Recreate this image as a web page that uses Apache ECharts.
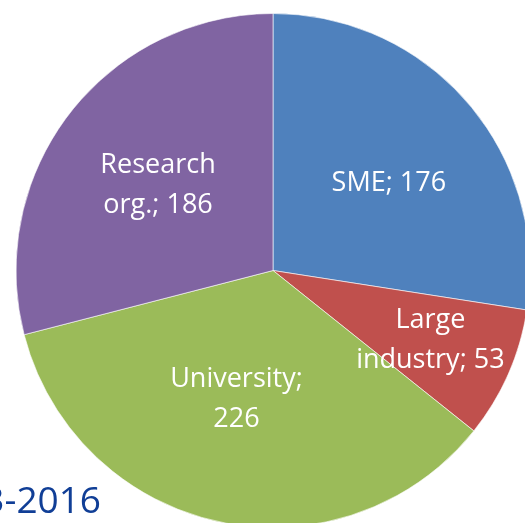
<!DOCTYPE html>
<html>
<head>
<meta charset="utf-8">
<script src="https://cdn.jsdelivr.net/npm/echarts@6/dist/echarts.min.js"></script>
<style>
html,body{margin:0;padding:0;background:#fff;}
#c{width:525px;height:523px;}
</style>
</head>
<body>
<div id="c"></div>
<script>
const categories = ['SME', 'Large industry', 'University', 'Research org.'];
const values = [176, 53, 226, 186];
const labelTexts = ['SME; 176', 'Large\nindustry; 53', 'University;\n226', 'Research\norg.; 186'];
const colors = ['#4F81BD', '#C0504D', '#9BBB59', '#8064A2'];
const labelOffsets = [[16, -2], [37, 17], [-9, 0], [-11, -5]];
const titleText = '2013-2016';

const chart = echarts.init(document.getElementById('c'), null, {renderer: 'canvas'});
chart.setOption({
  animation: false,
  backgroundColor: '#ffffff',
  graphic: [{
    type: 'text',
    right: 424,
    top: 484,
    style: {
      text: titleText,
      fill: '#103E96',
      font: '37px "Open Sans"',
      textAlign: 'right'
    }
  }],
  series: [{
    type: 'pie',
    center: [273, 270.5],
    radius: 257,
    startAngle: 90,
    clockwise: true,
    avoidLabelOverlap: false,
    itemStyle: {borderColor: 'rgba(255,255,255,0.6)', borderWidth: 1},
    label: {
      show: true,
      position: 'inside',
      color: '#ffffff',
      fontFamily: 'Open Sans',
      fontSize: 27,
      lineHeight: 40,
      align: 'center',
      formatter: p => labelTexts[p.dataIndex]
    },
    labelLine: {show: false},
    emphasis: {disabled: true},
    data: categories.map((c, i) => ({
      name: c,
      value: values[i],
      itemStyle: {color: colors[i]},
      label: {offset: labelOffsets[i]}
    }))
  }]
});
</script>
</body>
</html>
